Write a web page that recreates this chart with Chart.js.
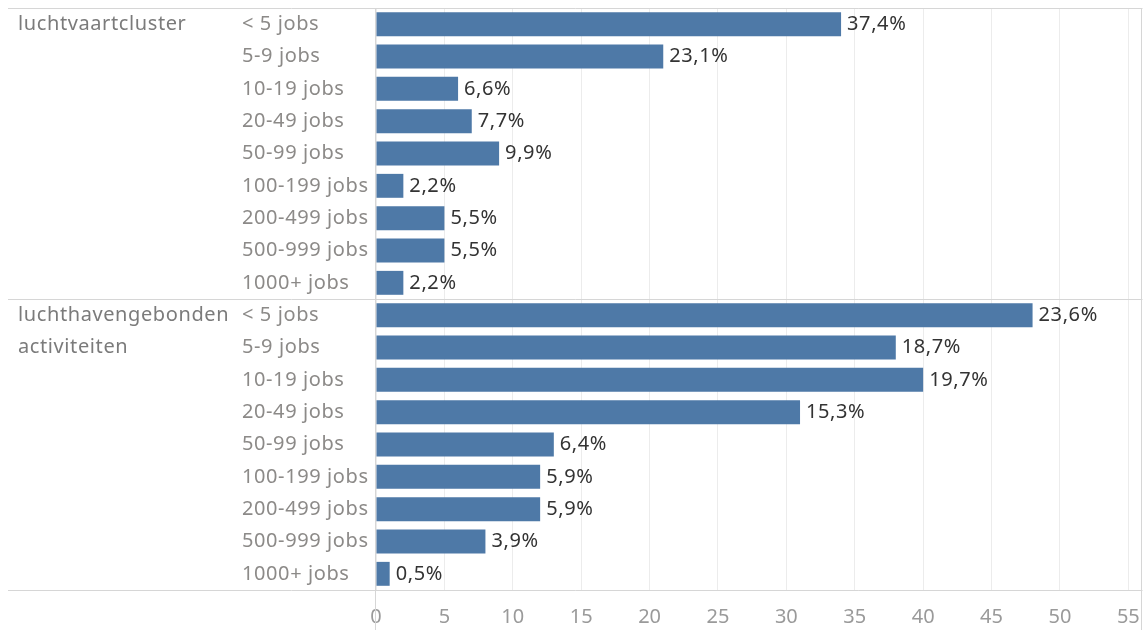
<!DOCTYPE html>
<html>
<head>
<meta charset="utf-8">
<script src="https://cdn.jsdelivr.net/npm/chart.js@4/dist/chart.umd.min.js"></script>
<style>
	html, body { margin: 0; padding: 0; background: #fff; }
	#jobsChart { display: block; }
</style>
</head>
<body>
<canvas id="jobsChart" width="1146" height="630"></canvas>
<script>
// bedrijven per grootteklasse (aantal banen), per cluster
const groups = [['luchtvaartcluster'], ['luchthavengebonden', 'activiteiten']];
const sizeClasses = ['< 5 jobs', '5-9 jobs', '10-19 jobs', '20-49 jobs', '50-99 jobs', '100-199 jobs', '200-499 jobs', '500-999 jobs', '1000+ jobs'];
const clusterCounts = [34, 21, 6, 7, 9, 2, 5, 5, 2];
const airportCounts = [48, 38, 40, 31, 13, 12, 12, 8, 1];
const xTicks = [0, 5, 10, 15, 20, 25, 30, 35, 40, 45, 50, 55];

const FONT = '"Noto Sans", "Open Sans", sans-serif';
const LINE = '#d6d6d6';

let rows = [];
let values = [];
let shares = [];
[clusterCounts, airportCounts].forEach((counts, g) => {
	let total = counts.reduce((a, b) => a + b, 0);
	counts.forEach((c, i) => {
		rows.push(g + '|' + sizeClasses[i]);
		values.push(c);
		shares.push((c / total * 100).toFixed(1).replace('.', ',') + '%');
	});
});

const tablePlugin = {
	id: 'tableLayout',
	beforeDatasetsDraw(chart) {
		let ctx = chart.ctx;
		let area = chart.chartArea;
		let y = chart.scales.y;
		let split = (y.getPixelForValue(sizeClasses.length - 1) + y.getPixelForValue(sizeClasses.length)) / 2;
		ctx.save();
		ctx.strokeStyle = LINE;
		ctx.lineWidth = 1;
		ctx.beginPath();
		[area.top, split, area.bottom].forEach(py => {
			py = Math.round(py) + 0.5;
			ctx.moveTo(8, py);
			ctx.lineTo(area.right + 0.5, py);
		});
		[area.left, area.right].forEach(px => {
			px = Math.round(px) - 0.5;
			ctx.moveTo(px, Math.round(area.top));
			ctx.lineTo(px, chart.height);
		});
		ctx.stroke();
		ctx.restore();
	},
	afterDatasetsDraw(chart) {
		let ctx = chart.ctx;
		let y = chart.scales.y;
		let meta = chart.getDatasetMeta(0);
		ctx.save();
		ctx.font = '20px ' + FONT;
		ctx.letterSpacing = '0.6px';
		ctx.textBaseline = 'middle';
		ctx.textAlign = 'left';

		// grootteklassen
		ctx.fillStyle = '#8c8a88';
		rows.forEach((r, i) => {
			ctx.fillText(r.split('|')[1], 242, y.getPixelForValue(i));
		});

		// clusternamen
		ctx.fillStyle = '#7b7b7b';
		groups.forEach((lines, g) => {
			lines.forEach((txt, j) => {
				ctx.fillText(txt, 18, y.getPixelForValue(g * sizeClasses.length + j));
			});
		});

		// percentages achter de balken
		ctx.fillStyle = '#333333';
		meta.data.forEach((bar, i) => {
			ctx.fillText(shares[i], bar.x + 6, bar.y);
		});
		ctx.restore();
	}
};

new Chart(document.getElementById('jobsChart'), {
	type: 'bar',
	data: {
		labels: rows,
		datasets: [{
			data: values,
			backgroundColor: '#4e79a7',
			barPercentage: 0.74,
			categoryPercentage: 1
		}]
	},
	plugins: [tablePlugin],
	options: {
		indexAxis: 'y',
		responsive: false,
		animation: false,
		layout: { padding: { left: 376, right: 4, top: 8, bottom: 0 } },
		plugins: {
			legend: { display: false },
			tooltip: { enabled: false }
		},
		scales: {
			y: {
				display: false
			},
			x: {
				min: 0,
				max: 56,
				afterBuildTicks: scale => {
					scale.ticks = xTicks.map(v => ({ value: v }));
				},
				// vaste hoogte, en geen extra ruimte naast de as voor de labels
				afterFit: scale => {
					scale.height = 40;
					scale.paddingLeft = 0;
					scale.paddingRight = 0;
				},
				border: { display: false },
				grid: {
					color: '#ececec',
					drawTicks: false
				},
				ticks: {
					padding: 15,
					color: '#9a9a9a',
					font: { family: FONT, size: 20 }
				}
			}
		}
	}
});
</script>
</body>
</html>
